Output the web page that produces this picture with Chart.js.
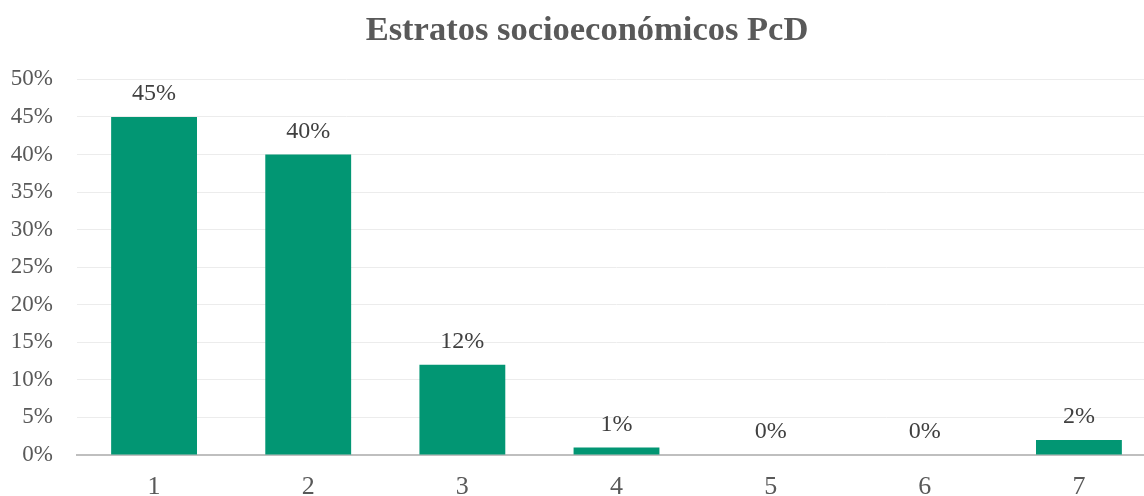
<!DOCTYPE html>
<html>
<head>
<meta charset="utf-8">
<script src="https://cdn.jsdelivr.net/npm/chart.js@4"></script>
<style>
  html, body { margin: 0; padding: 0; overflow: hidden; background: #fff; }
  #wrap { width: 1174px; height: 496px; }
</style>
</head>
<body>
<div id="wrap"><canvas id="estratosChart" width="1174" height="496"></canvas></div>
<script>
// datos del gráfico
const estratos = ['1', '2', '3', '4', '5', '6', '7'];
const porcentajes = [45, 40, 12, 1, 0, 0, 2];
const tituloGrafico = 'Estratos socioeconómicos PcD';

const serif = "'Liberation Serif', 'Times New Roman', serif";

// etiquetas de datos encima de cada barra
const etiquetasBarras = {
  id: 'etiquetasBarras',
  afterDatasetsDraw(chart) {
    const ctx = chart.ctx;
    const meta = chart.getDatasetMeta(0);
    ctx.save();
    ctx.font = '24px ' + serif;
    ctx.fillStyle = '#404040';
    ctx.textAlign = 'center';
    ctx.textBaseline = 'middle';
    meta.data.forEach((bar, i) => {
      ctx.fillText(porcentajes[i] + '%', bar.x, bar.y - 23);
    });
    ctx.restore();
  }
};

const ctx = document.getElementById('estratosChart').getContext('2d');
new Chart(ctx, {
  type: 'bar',
  data: {
    labels: estratos,
    datasets: [{
      data: porcentajes,
      backgroundColor: '#029673',
      borderWidth: 0,
      barPercentage: 0.557,
      categoryPercentage: 1
    }]
  },
  options: {
    responsive: false,
    animation: false,
    plugins: {
      legend: { display: false },
      tooltip: { enabled: false },
      title: {
        display: true,
        text: tituloGrafico,
        color: '#595959',
        font: { family: serif, size: 34.5, weight: 'bold', lineHeight: 1.2 },
        padding: { top: 10, bottom: 28 }
      }
    },
    scales: {
      x: {
        grid: { display: false, drawTicks: false },
        border: { display: true, color: '#bfbfbf', width: 2 },
        ticks: { color: '#595959', font: { family: serif, size: 26 }, padding: 17, maxRotation: 0 },
        afterFit(scale) { scale.height = 41; }
      },
      y: {
        min: 0,
        max: 50,
        grid: { color: '#ececec', lineWidth: 1, drawTicks: false },
        border: { display: false },
        ticks: {
          stepSize: 5,
          color: '#595959',
          font: { family: serif, size: 23 },
          padding: 24,
          callback: v => v + '%'
        },
        afterFit(scale) { scale.width = 77; }
      },
      // eje vacío a la derecha, solo reserva espacio
      yDerecha: {
        position: 'right',
        grid: { display: false, drawTicks: false },
        border: { display: false },
        ticks: { display: false },
        afterFit(scale) { scale.width = 18; }
      }
    }
  },
  plugins: [etiquetasBarras]
});
</script>
</body>
</html>
